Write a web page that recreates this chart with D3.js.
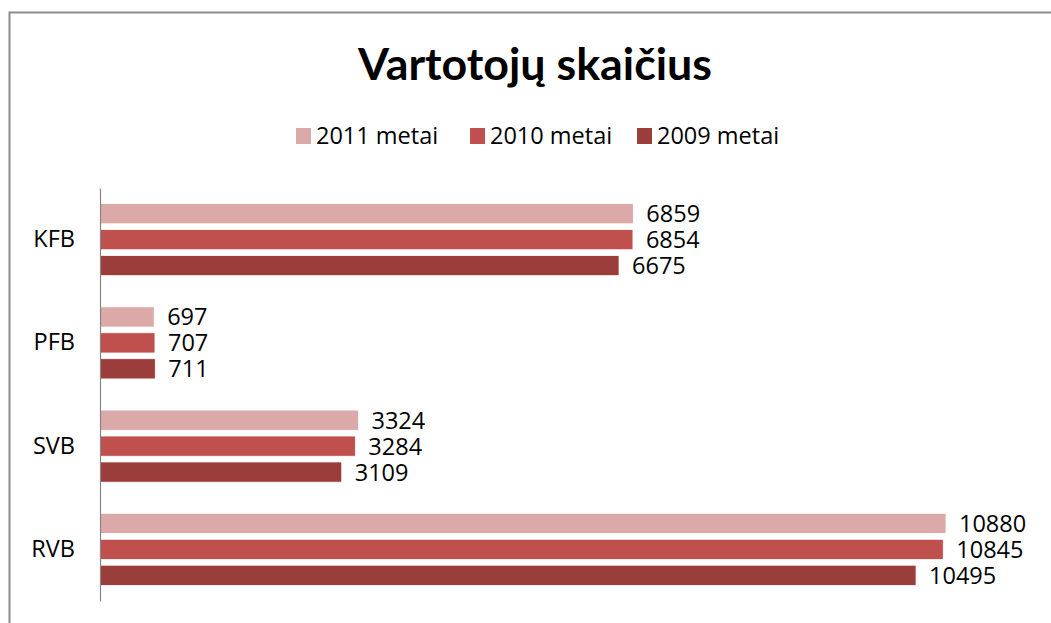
<!DOCTYPE html>
<html>
<head>
<meta charset="utf-8">
<script src="https://cdn.jsdelivr.net/npm/d3@7"></script>
<style>
  html, body { margin: 0; padding: 0; background: #fff; overflow: hidden; }
  svg { display: block; font-family: "Open Sans", Lato, sans-serif; }
</style>
</head>
<body>
<div id="chart"></div>
<script>
// data
const categories = ["KFB", "PFB", "SVB", "RVB"];
const seriesNames = ["2011 metai", "2010 metai", "2009 metai"];
const values2011 = [6859, 697, 3324, 10880];
const values2010 = [6854, 707, 3284, 10845];
const values2009 = [6675, 711, 3109, 10495];
const seriesColors = ["#dba9a8", "#c0504d", "#9b3d3b"];

const width = 1051, height = 623;
const seriesValues = [values2011, values2010, values2009];
const labelSize = 23.5;

const svg = d3.select("#chart").append("svg")
  .attr("width", width)
  .attr("height", height);

// chart frame
svg.append("rect")
  .attr("x", 9.5).attr("y", 12.5)
  .attr("width", width + 20).attr("height", height + 20)
  .attr("fill", "none")
  .attr("stroke", "#8c8c8c")
  .attr("stroke-width", 2);

// title
svg.append("text")
  .attr("x", 358).attr("y", 80)
  .attr("font-family", "Lato, 'Open Sans', sans-serif")
  .attr("font-size", 44)
  .attr("font-weight", "bold")
  .attr("textLength", 354)
  .attr("lengthAdjust", "spacingAndGlyphs")
  .attr("fill", "#000")
  .text("Vartotojų skaičius");

// legend
const legendX = [296, 470, 637];
const legend = svg.append("g");
seriesNames.forEach((name, i) => {
  const lg = legend.append("g").attr("transform", `translate(${legendX[i]},136)`);
  lg.append("rect")
    .attr("x", 0).attr("y", -8)
    .attr("width", 15).attr("height", 16)
    .attr("fill", seriesColors[i]);
  lg.append("text")
    .attr("x", 20).attr("y", 0)
    .attr("dy", "0.35em")
    .attr("font-size", labelSize)
    .attr("fill", "#000")
    .text(name);
});

// scales
const x = d3.scaleLinear().domain([0, 12000]).range([100, 100 + 12000 * (846 / 10880)]);
const y = d3.scaleBand().domain(categories).range([188, 601]).paddingInner(0).paddingOuter(0);
const inner = d3.scaleBand().domain(d3.range(seriesNames.length))
  .range([0, y.bandwidth()]).paddingInner(0.22).paddingOuter(0.6);

// bars
const rows = [];
categories.forEach((c, ci) => {
  seriesValues.forEach((vals, si) => rows.push({ cat: c, s: si, v: vals[ci] }));
});

const g = svg.append("g");
g.selectAll("rect.bar")
  .data(rows)
  .join("rect")
  .attr("class", "bar")
  .attr("x", x(0))
  .attr("y", d => y(d.cat) + inner(d.s))
  .attr("width", d => x(d.v) - x(0))
  .attr("height", inner.bandwidth())
  .attr("fill", d => seriesColors[d.s])
  .attr("stroke", "#fff")
  .attr("stroke-width", 0.8);

// value labels
g.selectAll("text.val")
  .data(rows)
  .join("text")
  .attr("class", "val")
  .attr("x", d => x(d.v) + 13)
  .attr("y", d => y(d.cat) + inner(d.s) + inner.bandwidth() / 2)
  .attr("dy", "0.36em")
  .attr("font-size", labelSize)
  .attr("fill", "#000")
  .text(d => d.v);

// category axis
const yAxis = d3.axisLeft(y).tickSize(0).tickPadding(25);
const axisG = svg.append("g")
  .attr("transform", `translate(${x(0)},0)`)
  .call(yAxis);
axisG.select(".domain").attr("stroke", "#868686").attr("stroke-width", 1.2);
axisG.selectAll(".tick text")
  .attr("font-size", labelSize)
  .attr("font-family", "'Open Sans', Lato, sans-serif")
  .attr("fill", "#000");
</script>
</body>
</html>
